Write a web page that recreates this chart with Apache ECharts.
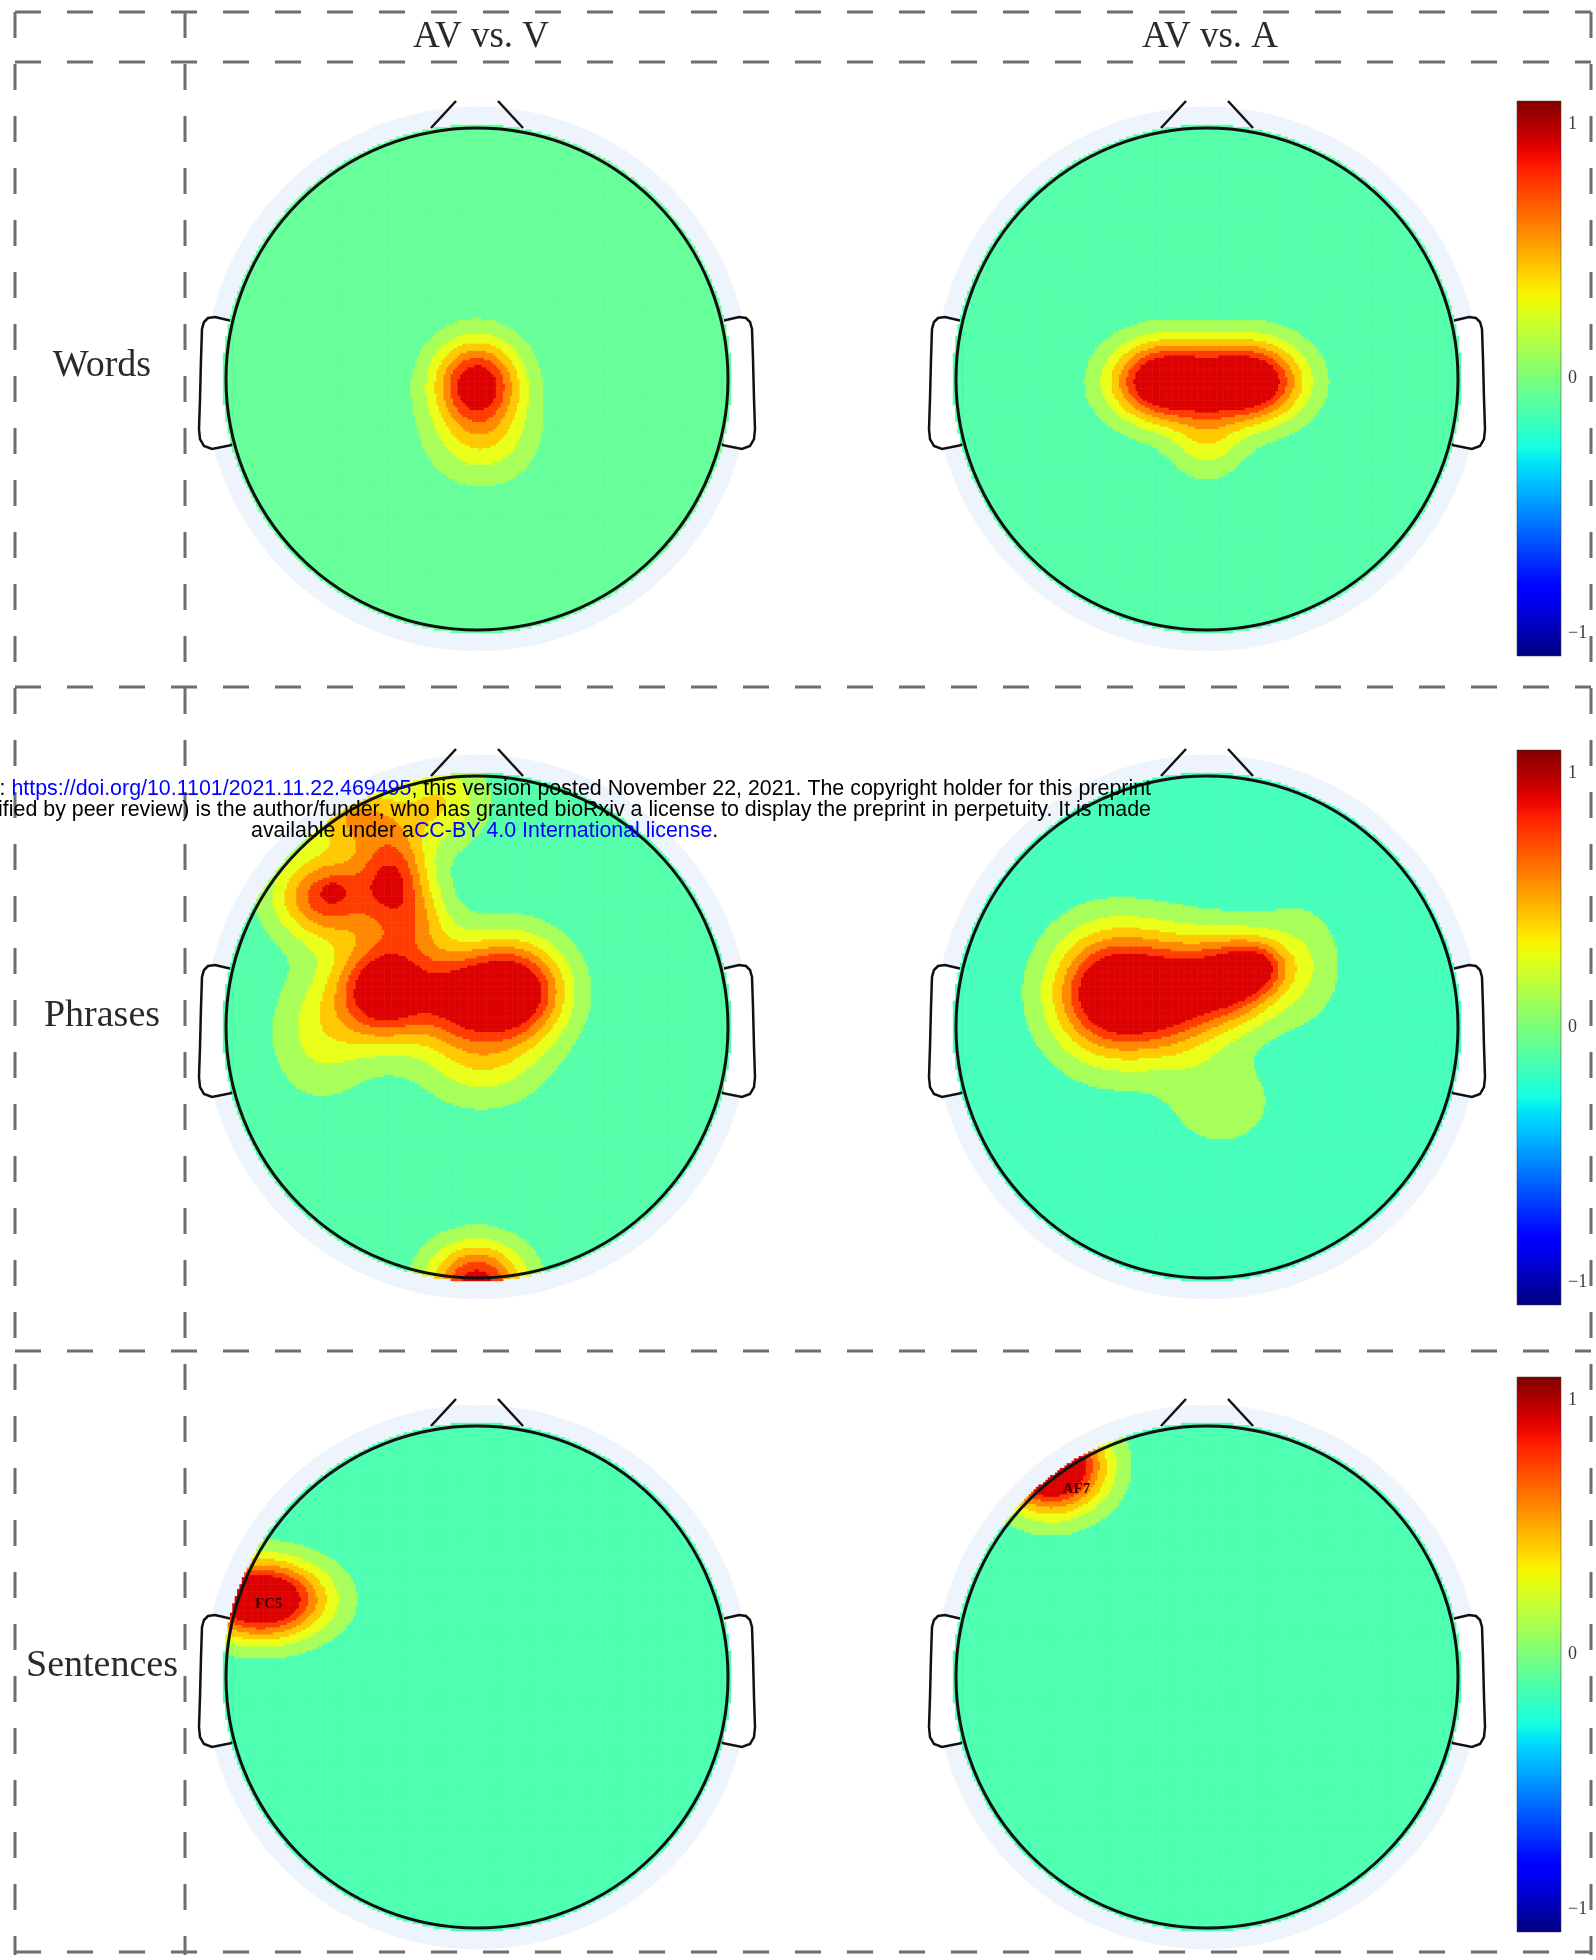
<!DOCTYPE html>
<html><head><meta charset="utf-8">
<script src="https://cdn.jsdelivr.net/npm/echarts@6/dist/echarts.min.js"></script>
<style>html,body{margin:0;padding:0;background:#fff}#c{width:1596px;height:1960px}</style>
</head><body><div id="c"></div>
<script>
// ---------------- data ----------------
const columnTitles = ['AV vs. V', 'AV vs. A'];
const rowLabels = ['Words', 'Phrases', 'Sentences'];
const colorbarTicks = [-1, 0, 1];
// contour thresholds of the interpolated scalp value, and their fills
const contourLevels = [0.1, 0.25, 0.4, 0.55, 0.7, 0.85, 1.35];
const contourColors = ['#a8ff58', '#eaff18', '#ffc800', '#ff8800', '#ff3c00', '#dd0000', '#a80000'];
const baselineColors = ['#66ff99', '#55ffaa', '#55ffaa', '#46ffba', '#4dffb0', '#4dffb0'];
// scalp sources: [x, y, amplitude, spreadX, spreadY] (head radius = 1, nose up)
const wordsV = [
  [0.00, -0.015, 0.98, 0.12, 0.12],
  [0.02, -0.24, 0.33, 0.14, 0.12]
];
const wordsA = [
  [-0.18, -0.01, 1.10, 0.14, 0.11],
  [0.00, -0.01, 0.30, 0.14, 0.11],
  [0.18, -0.01, 1.10, 0.14, 0.11],
  [0.00, -0.25, 0.30, 0.10, 0.10]
];
const phrasesV = [
  [-0.37, 0.15, 1.10, 0.13, 0.14],
  [-0.08, 0.12, 0.70, 0.13, 0.14],
  [0.15, 0.14, 1.10, 0.14, 0.14],
  [0.02, -0.15, 0.28, 0.16, 0.12],
  [-0.60, 0.52, 0.80, 0.14, 0.12],
  [-0.33, 0.60, 0.74, 0.10, 0.13],
  [-0.24, 0.42, 0.34, 0.10, 0.10],
  [-0.57, 0.54, 0.20, 0.03, 0.025],
  [-0.48, 0.84, 0.52, 0.14, 0.10],
  [-0.14, 0.90, 0.38, 0.12, 0.12],
  [-0.62, -0.02, 0.30, 0.13, 0.17],
  [0.00, -1.02, 0.95, 0.13, 0.11]
];
const phrasesA = [
  [-0.38, 0.135, 1.15, 0.16, 0.17],
  [-0.12, 0.13, 0.75, 0.14, 0.16],
  [0.10, 0.19, 0.85, 0.12, 0.12],
  [0.20, 0.24, 0.45, 0.08, 0.07],
  [0.06, -0.30, 0.19, 0.15, 0.13],
  [0.36, 0.25, 0.25, 0.12, 0.16]
];
const sentencesV = [
  [-0.86, 0.31, 1.30, 0.17, 0.105]
];
const sentencesA = [
  [-0.62, 0.84, 1.40, 0.14, 0.12]
];
const electrodeLabels = [[], [], [], [], [['FC5', -0.83, 0.29]], [['AF7', -0.52, 0.75]]];
const mapSources = [wordsV, wordsA, phrasesV, phrasesA, sentencesV, sentencesA];

// ---------------- layout ----------------
const R = 251;
const colCenters = [477, 1207];
const rowCenters = [379, 1027, 1677];
const E = 1.04, N = 220, CLIP = 1.012;
const cbX = 1517, cbW = 44, cbH = 555, cbTops = [101, 750, 1377];
const cbPad = 0.09 / 2.18 * cbH;
const earOutline = [[-245, -58], [-262, -62], [-269, -61], [-273, -57], [-275, -50], [-276, -20], [-277, 20],
  [-278, 50], [-277, 60], [-273, 67], [-265, 70], [-245, 66]];

function interp(pts, x) {
  for (let i = 1; i < pts.length; i++) {
    if (x <= pts[i][0]) {
      const [x0, y0] = pts[i - 1], [x1, y1] = pts[i];
      return y0 + (y1 - y0) * (x - x0) / (x1 - x0);
    }
  }
  return pts[pts.length - 1][1];
}
function jet(x) {
  const r = interp([[0, 0], [0.35, 0], [0.66, 1], [0.89, 1], [1, 0.5]], x);
  const g = interp([[0, 0], [0.125, 0], [0.375, 1], [0.64, 1], [0.91, 0], [1, 0]], x);
  const b = interp([[0, 0.5], [0.11, 1], [0.34, 1], [0.65, 0], [1, 0]], x);
  const h = v => Math.round(v * 255).toString(16).padStart(2, '0');
  return '#' + h(r) + h(g) + h(b);
}

function buildCells(src) {
  const out = [];
  const step = 2 * E / N;
  for (let i = 0; i < N; i++) for (let j = 0; j < N; j++) {
    const x = -E + (i + 0.5) * step, y = -E + (j + 0.5) * step;
    if (x * x + y * y > CLIP * CLIP) continue;
    let v = 0;
    for (const s of src) {
      const dx = (x - s[0]) / s[3], dy = (y - s[1]) / s[4];
      v += s[2] * Math.exp(-0.5 * (dx * dx + dy * dy));
    }
    out.push([i, j, Math.round(v * 1000) / 1000]);
  }
  return out;
}

const idx = Array.from({length: N}, (_, i) => String(i));
const grids = [], xAxes = [], yAxes = [], series = [], visualMaps = [], graphics = [];

mapSources.forEach((src, k) => {
  const row = Math.floor(k / 2), col = k % 2;
  const cx = colCenters[col], cy = rowCenters[row];
  grids.push({left: cx - E * R, top: cy - E * R, width: 2 * E * R, height: 2 * E * R, outerBoundsMode: 'none'});
  xAxes.push({type: 'category', data: idx, show: false, gridIndex: k, boundaryGap: true});
  yAxes.push({type: 'category', data: idx, show: false, gridIndex: k, boundaryGap: true});
  series.push({
    type: 'heatmap', xAxisIndex: k, yAxisIndex: k, data: buildCells(src),
    progressive: 0, silent: true, itemStyle: {borderWidth: 0}, emphasis: {disabled: true}, z: 2
  });
  const pieces = [{lt: contourLevels[0], color: baselineColors[k]}];
  for (let i = 0; i < contourLevels.length; i++) {
    const p = {gte: contourLevels[i], color: contourColors[i]};
    if (i + 1 < contourLevels.length) p.lt = contourLevels[i + 1];
    pieces.push(p);
  }
  visualMaps.push({type: 'piecewise', show: false, seriesIndex: k, dimension: 2, pieces});

  // head decorations
  graphics.push({type: 'circle', shape: {cx, cy, r: 1.085 * R}, style: {fill: '#eef4fc'}, z: 1, silent: true});
  [1, -1].forEach(side => graphics.push({
    type: 'polygon', shape: {points: earOutline.map(([x, y]) => [cx + side * x, cy + y])},
    style: {fill: '#fff', stroke: '#111', lineWidth: 2.5}, z: 1, silent: true
  }));
  graphics.push({type: 'line', shape: {x1: cx - 46, y1: cy - 251, x2: cx - 21, y2: cy - 278}, style: {stroke: '#111', lineWidth: 2.5}, z: 5});
  graphics.push({type: 'line', shape: {x1: cx + 46, y1: cy - 251, x2: cx + 21, y2: cy - 278}, style: {stroke: '#111', lineWidth: 2.5}, z: 5});
  graphics.push({type: 'circle', shape: {cx, cy, r: R}, style: {fill: null, stroke: '#111', lineWidth: 3}, z: 5, silent: true});
  electrodeLabels[k].forEach(([name, ex, ey]) => graphics.push({
    type: 'text', z: 6, style: {text: name, x: cx + ex * R, y: cy - ey * R, align: 'center', verticalAlign: 'middle',
      font: 'bold 15px "Liberation Serif"', fill: '#3a0000'}
  }));
});

// colorbars
const stops = [];
for (let s = 0; s <= 40; s++) stops.push({offset: s / 40, color: jet(1 - s / 40)});
cbTops.forEach((top, r) => {
  const gi = 6 + r;
  grids.push({left: cbX, top: top + cbPad, width: cbW, height: cbH - 2 * cbPad, outerBoundsMode: 'none'});
  xAxes.push({type: 'value', gridIndex: gi, show: false, min: 0, max: 1});
  yAxes.push({
    type: 'value', gridIndex: gi, position: 'right', min: colorbarTicks[0], max: colorbarTicks[2], interval: 1,
    axisLine: {show: false}, axisTick: {show: false}, splitLine: {show: false},
    axisLabel: {margin: 7, fontFamily: 'Liberation Serif', fontSize: 18, color: '#3a3a3a',
      formatter: v => v < 0 ? '\u2212' + Math.abs(v) : String(v)}
  });
  graphics.push({type: 'rect', shape: {x: cbX, y: top, width: cbW, height: cbH},
    style: {fill: new echarts.graphic.LinearGradient(0, 0, 0, 1, stops), stroke: 'rgba(60,60,60,0.5)', lineWidth: 1}, z: 3});
});

// dashed frame
const dash = {stroke: '#6e6e6e', lineWidth: 3, lineDash: [26, 26]};
[12, 62, 687, 1351, 1952].forEach(y => graphics.push({type: 'line', shape: {x1: 15, y1: y, x2: 1591, y2: y}, style: dash, z: 4}));
[15, 185, 1591].forEach(x => graphics.push({type: 'line', shape: {x1: x, y1: 12, x2: x, y2: 1955}, style: dash, z: 4}));

// titles and row labels
columnTitles.forEach((t, c) => graphics.push({type: 'text', z: 6,
  style: {text: t, x: c === 0 ? 481 : 1210, y: 37, align: 'center', verticalAlign: 'middle', font: '37px "Liberation Serif"', fill: '#2a2a2a'}}));
rowLabels.forEach((t, r) => graphics.push({type: 'text', z: 6,
  style: {text: t, x: 102, y: [366, 1016, 1666][r], align: 'center', verticalAlign: 'middle', font: '38px "Liberation Serif"', fill: '#2a2a2a'}}));

// bioRxiv stamp
const wmFont = '21.4px "Liberation Sans"';
const rich = {k: {fill: '#000', font: wmFont}, b: {fill: '#0000ff', font: wmFont}};
graphics.push({type: 'text', z: 20, style: {x: 1151, y: 789, align: 'right', verticalAlign: 'middle', rich, font: wmFont,
  text: '{k|bioRxiv preprint doi: }{b|https://doi.org/10.1101/2021.11.22.469495}{k|; this version posted November 22, 2021. The copyright holder for this preprint}'}});
graphics.push({type: 'text', z: 20, style: {x: 1151, y: 810, align: 'right', verticalAlign: 'middle', rich, font: wmFont,
  text: '{k|(which was not certified by peer review) is the author/funder, who has granted bioRxiv a license to display the preprint in perpetuity. It is made}'}});
graphics.push({type: 'text', z: 20, style: {x: 251, y: 831, align: 'left', verticalAlign: 'middle', rich, font: wmFont,
  text: '{k|available under a}{b|CC-BY 4.0 International license}{k|.}'}});

const chart = echarts.init(document.getElementById('c'), null, {renderer: 'canvas'});
chart.setOption({
  animation: false,
  backgroundColor: '#ffffff',
  grid: grids, xAxis: xAxes, yAxis: yAxes,
  visualMap: visualMaps,
  series: series,
  graphic: {elements: graphics}
});
</script></body></html>
